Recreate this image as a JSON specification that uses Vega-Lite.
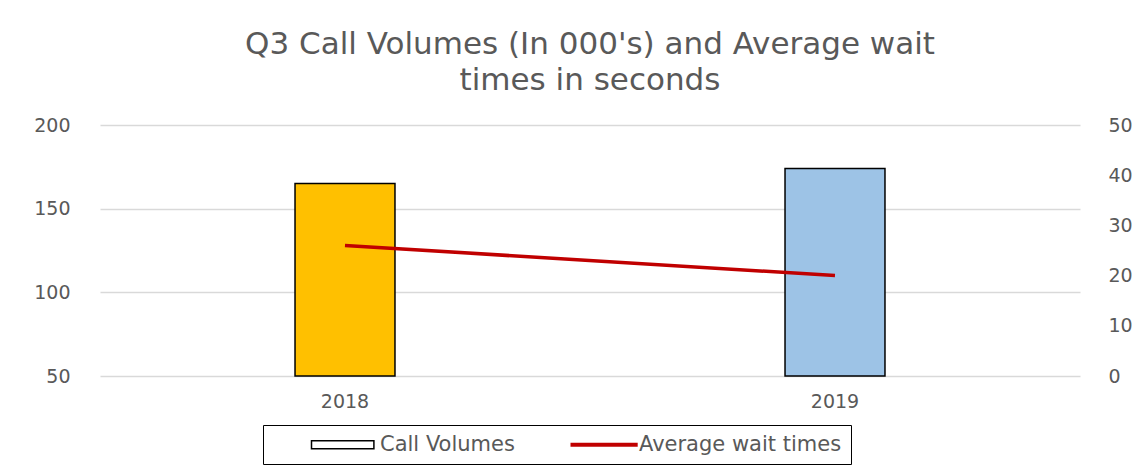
{
  "$schema": "https://vega.github.io/schema/vega-lite/v6.json",
  "width": 980,
  "height": 251,
  "autosize": "none",
  "padding": {"left": 100, "top": 125, "right": 68, "bottom": 94},
  "background": "white",
  "config": {"view": {"stroke": null}},
  "title": {
    "text": ["Q3 Call Volumes (In 000's) and Average wait", "times in seconds"],
    "fontSize": 31,
    "font": "DejaVu Sans",
    "fontWeight": "normal",
    "color": "#595959",
    "anchor": "middle",
    "offset": 19,
    "lineHeight": 36
  },
  "data": {
    "values": [
      {"year": "2018", "calls": 165, "wait": 26},
      {"year": "2019", "calls": 174, "wait": 20}
    ]
  },
  "encoding": {
    "x": {
      "field": "year",
      "type": "nominal",
      "scale": {"paddingInner": 0, "paddingOuter": 0},
      "axis": {
        "title": null,
        "labelAngle": 0,
        "domain": false,
        "ticks": false,
        "labelPadding": 16,
        "labelFontSize": 19,
        "labelFont": "DejaVu Sans",
        "labelColor": "#595959"
      }
    }
  },
  "layer": [
    {
      "mark": {"type": "bar", "width": {"band": 0.204}, "strokeWidth": 1.5},
      "encoding": {
        "y": {
          "field": "calls",
          "type": "quantitative",
          "scale": {"domain": [50, 200], "zero": false, "nice": false},
          "axis": {
            "title": null,
            "values": [50, 100, 150, 200],
            "domain": false,
            "ticks": false,
            "labelPadding": 30,
            "grid": true,
            "gridColor": "#D9D9D9",
            "gridWidth": 1.5,
            "labelFontSize": 19,
            "labelFont": "DejaVu Sans",
            "labelColor": "#595959"
          }
        },
        "y2": {"datum": 50},
        "fill": {
          "field": "year",
          "type": "nominal",
          "scale": {"domain": ["2018", "2019"], "range": ["#FFC000", "#9DC3E6"]},
          "legend": null
        },
        "stroke": {
          "datum": "Call Volumes",
          "type": "nominal",
          "scale": {"domain": ["Call Volumes", "Average wait times"], "range": ["black", "#C00000"]},
          "legend": {
            "title": " ",
            "titleOrient": "left",
            "titlePadding": 35,
            "titleFontSize": 18,
            "orient": "none",
            "legendX": 163,
            "legendY": 300,
            "direction": "horizontal",
            "strokeColor": "black",
            "padding": 9,
            "labelFontSize": 21,
            "labelFont": "DejaVu Sans",
            "labelColor": "#595959",
            "labelLimit": 400,
            "columnPadding": 47,
            "symbolSize": 144,
            "labelOffset": 52,
            "encoding": {
              "symbols": {
                "shape": {"value": {"expr": "datum.value === 'Call Volumes' ? 'M-1,-0.67H9.4V0.67H-1Z' : 'M-1,0H10.2'"}},
                "fill": {"value": {"expr": "datum.value === 'Call Volumes' ? 'white' : 'transparent'"}},
                "strokeWidth": {"value": {"expr": "datum.value === 'Call Volumes' ? 1.5 : 4"}}
              }
            }
          }
        }
      }
    },
    {
      "mark": {"type": "line", "strokeWidth": 3.5},
      "encoding": {
        "y": {
          "field": "wait",
          "type": "quantitative",
          "scale": {"domain": [0, 50], "nice": false},
          "axis": {
            "orient": "right",
            "title": null,
            "values": [0, 10, 20, 30, 40, 50],
            "domain": false,
            "ticks": false,
            "grid": false,
            "labelPadding": 28,
            "labelFontSize": 19,
            "labelFont": "DejaVu Sans",
            "labelColor": "#595959"
          }
        },
        "stroke": {"datum": "Average wait times", "type": "nominal", "legend": null}
      }
    }
  ],
  "resolve": {"scale": {"y": "independent"}}
}
